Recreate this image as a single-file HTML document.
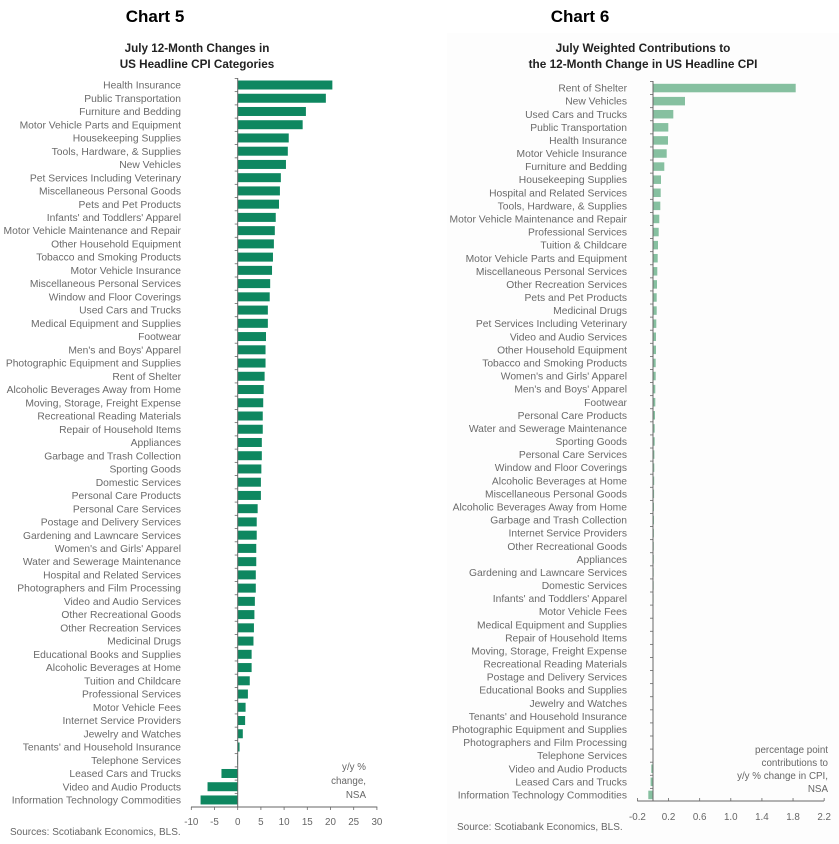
<!DOCTYPE html>
<html><head><meta charset="utf-8"><style>
body{margin:0;background:#fff;width:839px;height:844px;overflow:hidden}
svg{display:block}
text{font-family:"Liberation Sans",sans-serif}
</style></head><body>
<svg id="s" width="839" height="844" xmlns="http://www.w3.org/2000/svg">
<rect x="447" y="33" width="392" height="811" fill="#fdfdfd"/>
<text x="155" y="22" font-size="17" font-weight="bold" text-anchor="middle" fill="#000">Chart 5</text>
<text x="580" y="22" font-size="17" font-weight="bold" text-anchor="middle" fill="#000">Chart 6</text>
<text x="197" y="52" font-size="11.7" font-weight="bold" text-anchor="middle" fill="#222">July 12-Month Changes in</text>
<text x="197" y="68" font-size="11.7" font-weight="bold" text-anchor="middle" fill="#222">US Headline CPI Categories</text>
<text x="643" y="52" font-size="11.8" font-weight="bold" text-anchor="middle" fill="#222">July Weighted Contributions to</text>
<text x="643" y="68" font-size="11.8" font-weight="bold" text-anchor="middle" fill="#222">the 12-Month Change in US Headline CPI</text>
<g font-size="9.8" fill="#666" text-anchor="end">
<text x="366" y="770">y/y %</text><text x="366" y="784">change,</text><text x="366" y="798">NSA</text>
<text x="828" y="753">percentage point</text><text x="828" y="766">contributions to</text><text x="828" y="779">y/y % change in CPI,</text><text x="828" y="792">NSA</text>
</g>
<text x="10" y="835" font-size="10" fill="#666">Sources: Scotiabank Economics, BLS.</text>
<text x="457" y="830" font-size="10" fill="#666">Source: Scotiabank Economics, BLS.</text>
</svg>
<script>
var NS="http://www.w3.org/2000/svg",s=document.getElementById("s");
function el(t,a,txt){var e=document.createElementNS(NS,t);for(var k in a)e.setAttribute(k,a[k]);if(txt!=null)e.textContent=txt;s.appendChild(e);return e;}
var c5=[["Health Insurance",20.4],["Public Transportation",19],["Furniture and Bedding",14.7],["Motor Vehicle Parts and Equipment",14],["Housekeeping Supplies",11],["Tools, Hardware, & Supplies",10.8],["New Vehicles",10.4],["Pet Services Including Veterinary",9.3],["Miscellaneous Personal Goods",9.1],["Pets and Pet Products",8.9],["Infants' and Toddlers' Apparel",8.2],["Motor Vehicle Maintenance and Repair",8],["Other Household Equipment",7.8],["Tobacco and Smoking Products",7.6],["Motor Vehicle Insurance",7.4],["Miscellaneous Personal Services",7],["Window and Floor Coverings",6.9],["Used Cars and Trucks",6.5],["Medical Equipment and Supplies",6.5],["Footwear",6.1],["Men's and Boys' Apparel",6],["Photographic Equipment and Supplies",6],["Rent of Shelter",5.8],["Alcoholic Beverages Away from Home",5.6],["Moving, Storage, Freight Expense",5.5],["Recreational Reading Materials",5.4],["Repair of Household Items",5.4],["Appliances",5.2],["Garbage and Trash Collection",5.2],["Sporting Goods",5.1],["Domestic Services",5],["Personal Care Products",5],["Personal Care Services",4.3],["Postage and Delivery Services",4.1],["Gardening and Lawncare Services",4.1],["Women's and Girls' Apparel",4],["Water and Sewerage Maintenance",4],["Hospital and Related Services",3.9],["Photographers and Film Processing",3.9],["Video and Audio Services",3.7],["Other Recreational Goods",3.6],["Other Recreation Services",3.5],["Medicinal Drugs",3.4],["Educational Books and Supplies",3],["Alcoholic Beverages at Home",3],["Tuition and Childcare",2.6],["Professional Services",2.2],["Motor Vehicle Fees",1.7],["Internet Service Providers",1.6],["Jewelry and Watches",1.1],["Tenants' and Household Insurance",0.4],["Telephone Services",-0.1],["Leased Cars and Trucks",-3.5],["Video and Audio Products",-6.5],["Information Technology Commodities",-8]];
var z5=237.7,k5=4.64;
c5.forEach(function(d,i){var y=85+i*13.24;
el("text",{x:181,y:y+3.6,"font-size":"10.3","fill":"#6a6a6a","text-anchor":"end"},d[0]);
var e=z5+d[1]*k5;el("rect",{x:Math.min(z5,e),y:y-4.5,width:Math.max(Math.abs(e-z5),0.5),height:9,fill:"#0e8760"});
el("line",{x1:z5-3,x2:z5,y1:y-6.6,y2:y-6.6,stroke:"#666","stroke-width":"0.8"});});
el("line",{x1:z5,x2:z5,y1:78,y2:807,stroke:"#666","stroke-width":"1"});
el("line",{x1:191,x2:377.3,y1:807,y2:807,stroke:"#666","stroke-width":"1"});
for(var v=-10;v<=30;v+=5){var x=z5+v*k5;el("line",{x1:x,x2:x,y1:807,y2:810,stroke:"#666","stroke-width":"0.8"});el("text",{x:x,y:825,"font-size":"9.8",fill:"#666","text-anchor":"middle"},String(v));}
var c6=[["Rent of Shelter",795.7],["New Vehicles",685],["Used Cars and Trucks",673.3],["Public Transportation",668.3],["Health Insurance",668],["Motor Vehicle Insurance",666.7],["Furniture and Bedding",664.3],["Housekeeping Supplies",661],["Hospital and Related Services",660.7],["Tools, Hardware, & Supplies",660.3],["Motor Vehicle Maintenance and Repair",659.3],["Professional Services",658.7],["Tuition & Childcare",658],["Motor Vehicle Parts and Equipment",657.7],["Miscellaneous Personal Services",657.3],["Other Recreation Services",657],["Pets and Pet Products",656.7],["Medicinal Drugs",656.7],["Pet Services Including Veterinary",656.3],["Video and Audio Services",656],["Other Household Equipment",656],["Tobacco and Smoking Products",655.7],["Women's and Girls' Apparel",655.7],["Men's and Boys' Apparel",655.3],["Footwear",655.3],["Personal Care Products",655],["Water and Sewerage Maintenance",654.7],["Sporting Goods",654.7],["Personal Care Services",654.4],["Window and Floor Coverings",654.3],["Alcoholic Beverages at Home",654.2],["Miscellaneous Personal Goods",654.1],["Alcoholic Beverages Away from Home",654],["Garbage and Trash Collection",654],["Internet Service Providers",653.9],["Other Recreational Goods",653.8],["Appliances",653.8],["Gardening and Lawncare Services",653.7],["Domestic Services",653.7],["Infants' and Toddlers' Apparel",653.6],["Motor Vehicle Fees",653.5],["Medical Equipment and Supplies",653.4],["Repair of Household Items",653.3],["Moving, Storage, Freight Expense",653.3],["Recreational Reading Materials",653.2],["Postage and Delivery Services",653.2],["Educational Books and Supplies",653.1],["Jewelry and Watches",653.1],["Tenants' and Household Insurance",653],["Photographic Equipment and Supplies",653],["Photographers and Film Processing",653],["Telephone Services",653],["Video and Audio Products",651.3],["Leased Cars and Trucks",650.6],["Information Technology Commodities",648.3]];
var z6=653,k6=77.8;
c6.forEach(function(d,i){var y=88+i*13.09;
el("text",{x:627,y:y+3.6,"font-size":"10.3","fill":"#6a6a6a","text-anchor":"end"},d[0]);
var e=d[1];el("rect",{x:Math.min(z6,e),y:y-4.2,width:Math.max(Math.abs(e-z6),0.3),height:8.5,fill:"#86c0a0"});
el("line",{x1:z6-3,x2:z6,y1:y-6.5,y2:y-6.5,stroke:"#666","stroke-width":"0.8"});});
el("line",{x1:z6,x2:z6,y1:81,y2:801,stroke:"#666","stroke-width":"1"});
el("line",{x1:637.3,x2:824,y1:801,y2:801,stroke:"#666","stroke-width":"1"});
["-0.2","0.2","0.6","1.0","1.4","1.8","2.2"].forEach(function(t){var x=z6+parseFloat(t)*k6;el("line",{x1:x,x2:x,y1:798,y2:801,stroke:"#666","stroke-width":"0.8"});el("text",{x:x,y:820,"font-size":"9.8",fill:"#666","text-anchor":"middle"},t);});
</script>
</body></html>
